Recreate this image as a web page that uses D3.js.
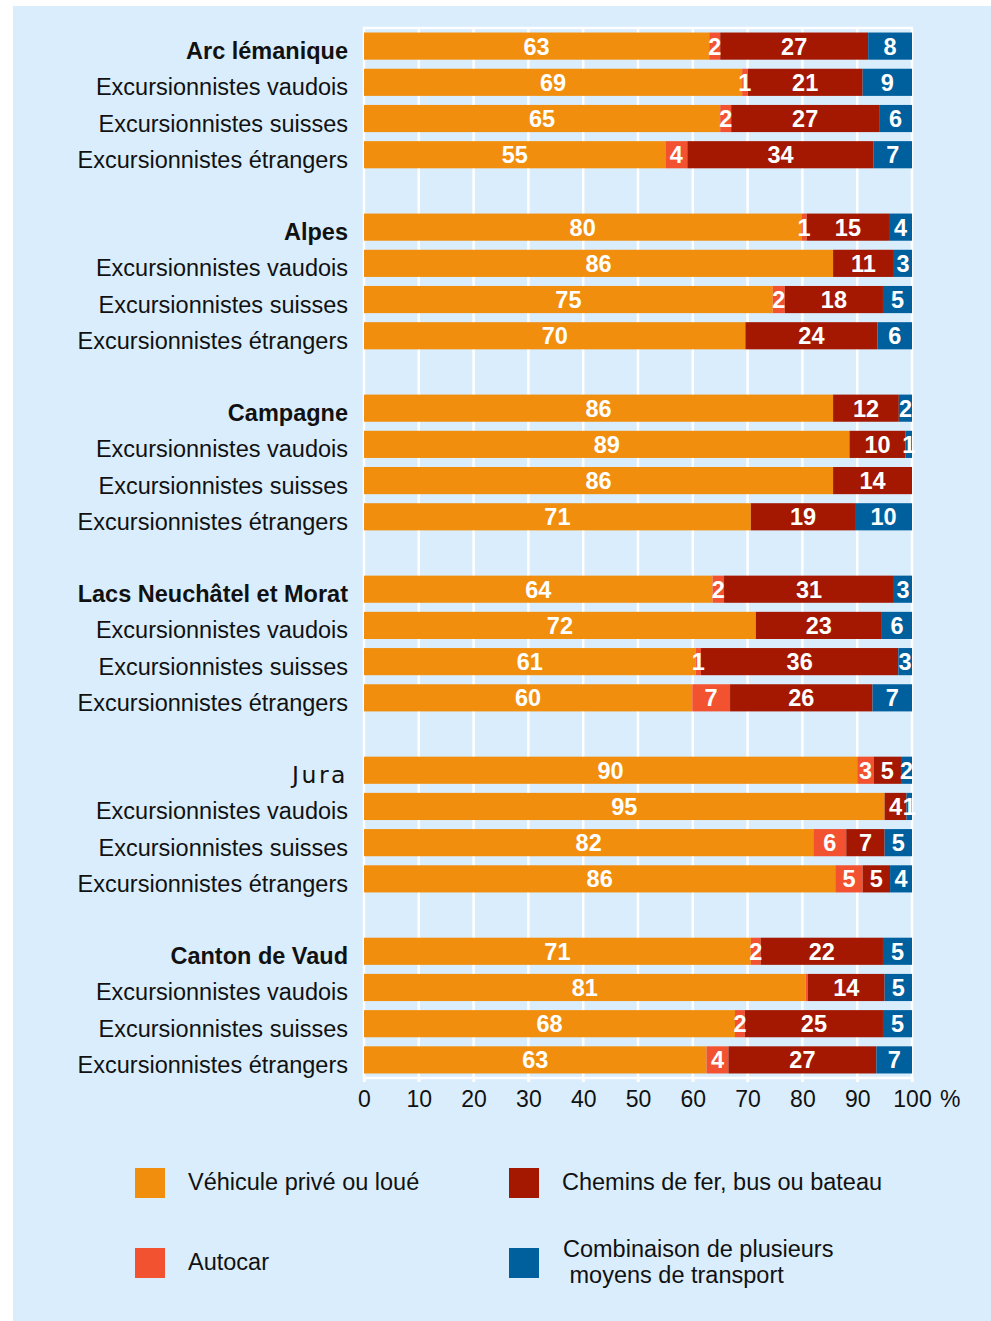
<!DOCTYPE html>
<html>
<head>
<meta charset="utf-8">
<script src="https://cdn.jsdelivr.net/npm/d3@7"></script>
<style>
  body { margin: 0; background: #fff; }
  svg { display: block; font-family: "Liberation Sans", Arial, sans-serif; }
</style>
</head>
<body>
<svg width="991" height="1321"></svg>
<script>
// regions (group headings) and visitor profiles
const groups = ["Arc lémanique", "Alpes", "Campagne", "Lacs Neuchâtel et Morat", "Jura", "Canton de Vaud"];
const profils = ["Excursionnistes vaudois", "Excursionnistes suisses", "Excursionnistes étrangers"];

const seriesNames = ["Véhicule privé ou loué", "Autocar", "Chemins de fer, bus ou bateau", "Combinaison de plusieurs moyens de transport"];
const seriesColors = ["#f18e0e", "#f2522f", "#a41700", "#00609e"];

// one value per row: group total, vaudois, suisses, étrangers
const prive   = [63, 69, 65, 55,   79.8, 85.6, 74.6, 69.6,   85.6, 88.6, 85.6, 70.6,   63.6, 71.5, 60.5, 59.9,   90, 95, 82, 86,   70.6, 80.6, 67.7, 62.5];
const autocar = [2, 1, 2, 4,       1.0, 0, 2.2, 0,           0, 0, 0, 0,               2.1, 0, 1.0, 6.9,         3, 0, 6, 5,       1.8, 0.4, 1.8, 4.0];
const train   = [27, 21, 27, 34,   15.0, 11.1, 17.9, 24.1,   12.0, 10.2, 14.4, 19.0,   31.0, 23.0, 36.0, 26.0,   5, 4, 7, 5,       22.3, 14.0, 25.2, 27.0];
const combi   = [8, 9, 6, 7,       4.2, 3.3, 5.3, 6.3,       2.4, 1.2, 0, 10.4,        3.3, 5.5, 2.5, 7.2,       2, 1, 5, 4,       5.3, 5.0, 5.3, 6.5];

const xTicks = [0, 10, 20, 30, 40, 50, 60, 70, 80, 90, 100];

const svg = d3.select("svg");
const keys = ["prive", "autocar", "train", "combi"];

// build rows, with an empty slot between groups
const rows = [];
const slots = [];
groups.forEach((g, gi) => {
    if (gi > 0) slots.push("gap" + gi);
    [g].concat(profils).forEach((label, pi) => {
        const i = gi * 4 + pi;
        const id = "r" + i;
        slots.push(id);
        rows.push({
            id: id,
            label: label,
            head: pi === 0,
            group: g,
            prive: prive[i], autocar: autocar[i], train: train[i], combi: combi[i]
        });
    });
});

const x = d3.scaleLinear().domain([0, 100]).range([364, 912]);
const y = d3.scaleBand().domain(slots).range([28, 1078]).paddingInner(0.25).paddingOuter(0.125);
const color = d3.scaleOrdinal().domain(keys).range(seriesColors);

// background panel
svg.append("rect")
    .attr("x", 13).attr("y", 6)
    .attr("width", 978).attr("height", 1315)
    .attr("fill", "#d9edfc");

// grid
svg.append("g")
    .selectAll("line")
    .data(xTicks)
    .join("line")
    .attr("x1", d => x(d)).attr("x2", d => x(d))
    .attr("y1", 28).attr("y2", 1082)
    .attr("stroke", "#fff")
    .attr("stroke-width", 2.5);

svg.append("line")
    .attr("x1", 363).attr("x2", x(100) + 1)
    .attr("y1", 28).attr("y2", 28)
    .attr("stroke", "#fff").attr("stroke-width", 2.5);
svg.append("line")
    .attr("x1", 363).attr("x2", x(100) + 1)
    .attr("y1", 1078).attr("y2", 1078)
    .attr("stroke", "#fff").attr("stroke-width", 2.5);

// stacked bars
const stacked = d3.stack().keys(keys)(rows);

const layers = svg.append("g")
    .selectAll("g")
    .data(stacked)
    .join("g")
    .attr("fill", d => color(d.key));

layers.selectAll("rect")
    .data(d => d)
    .join("rect")
    .attr("x", d => x(d[0]))
    .attr("y", d => y(d.data.id))
    .attr("width", d => x(d[1]) - x(d[0]))
    .attr("height", y.bandwidth());

// value labels
const labels = [];
stacked.forEach(layer => {
    layer.forEach(d => {
        const v = d[1] - d[0];
        if (Math.round(v) >= 1) labels.push({ v: Math.round(v), mid: (d[0] + d[1]) / 2, id: d.data.id });
    });
});

svg.append("g")
    .selectAll("text")
    .data(labels)
    .join("text")
    .attr("x", d => x(d.mid))
    .attr("y", d => y(d.id) + y.bandwidth() / 2 + 8.5)
    .attr("text-anchor", "middle")
    .attr("fill", "#fff")
    .attr("font-weight", "bold")
    .attr("font-size", 23.5)
    .text(d => d.v);

// category labels
svg.append("g")
    .selectAll("text")
    .data(rows)
    .join("text")
    .attr("x", 348)
    .attr("y", d => y(d.id) + y.bandwidth() / 2 + 13)
    .attr("text-anchor", "end")
    .attr("fill", "#111")
    .attr("font-size", 23.5)
    .attr("font-weight", d => d.head && d.group !== "Jura" ? "bold" : "normal")
    .attr("font-family", d => d.head && d.group === "Jura" ? "DejaVu Sans" : null)
    .attr("letter-spacing", d => d.head && d.group === "Jura" ? 2.5 : null)
    .text(d => d.label);

// x axis
const axis = svg.append("g")
    .attr("transform", "translate(0,1078)")
    .call(d3.axisBottom(x).tickValues(xTicks).tickSize(4).tickPadding(9));
axis.select(".domain").remove();
axis.selectAll(".tick line").attr("stroke", "#fff").attr("stroke-width", 2.5);
axis.selectAll(".tick text")
    .attr("font-family", "Liberation Sans, Arial, sans-serif")
    .attr("font-size", 23)
    .attr("fill", "#111");

svg.append("text")
    .attr("x", 940).attr("y", 1107)
    .attr("font-size", 23)
    .attr("fill", "#111")
    .text("%");

// legend
const legendPos = [
    { x: 135, y: 1168 },
    { x: 135, y: 1248 },
    { x: 509, y: 1168 },
    { x: 509, y: 1248 }
];
const legend = svg.append("g")
    .selectAll("g")
    .data(keys)
    .join("g")
    .attr("transform", (d, i) => `translate(${legendPos[i].x},${legendPos[i].y})`);

legend.append("rect")
    .attr("width", 30).attr("height", 30)
    .attr("fill", d => color(d));

legend.each(function(d, i) {
    const g = d3.select(this);
    if (i === 3) {
        g.append("text").attr("x", 54).attr("y", 9).attr("font-size", 23.5).attr("fill", "#111")
            .text("Combinaison de plusieurs");
        g.append("text").attr("x", 54).attr("y", 35).attr("font-size", 23.5).attr("fill", "#111")
            .text("\u00a0moyens de transport");
    } else {
        g.append("text").attr("x", 53).attr("y", 22).attr("font-size", 23.5).attr("fill", "#111")
            .text(seriesNames[i]);
    }
});
</script>
</body>
</html>
